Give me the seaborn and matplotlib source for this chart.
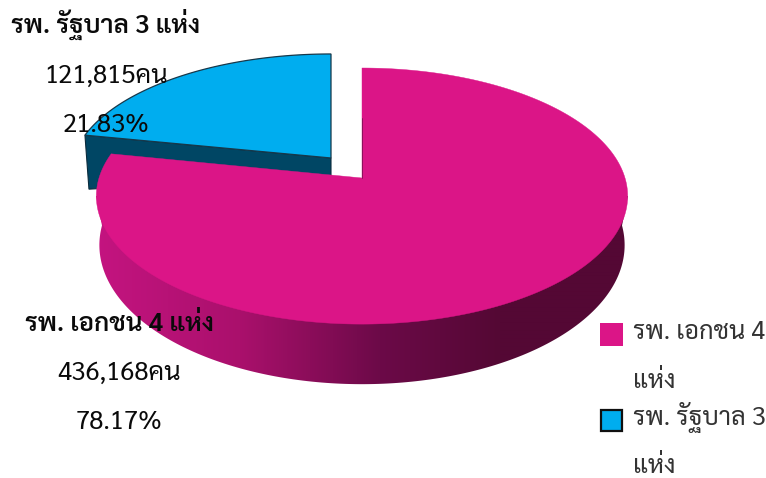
import numpy as np
import matplotlib
matplotlib.use('Agg')
import matplotlib.pyplot as plt
import seaborn as sns
from matplotlib.patches import Rectangle, Polygon

categories = ["รพ. เอกชน 4 แห่ง", "รพ. รัฐบาล 3 แห่ง"]
people = [436168, 121815]
count_labels = ["436,168คน", "121,815คน"]
percent_labels = ["78.17%", "21.83%"]
legend_lines = [["รพ. เอกชน 4", "แห่ง"], ["รพ. รัฐบาล 3", "แห่ง"]]
colors = ["#DB1587", "#00ADEF"]

sns.set_theme(style="white")
FONT = ["Sarabun", "Noto Sans Thai", "DejaVu Sans"]
plt.rcParams['font.family'] = FONT
palette = sns.color_palette(colors)

fig = plt.figure(figsize=(7.66, 4.78), dpi=100, facecolor='white')
ax = fig.add_axes([0, 0, 1, 1])
ax.axis('off')

C = 0.141  # perspective
def rim(theta, cx, cy, r, k):
    d = 1 + C * np.cos(theta)
    return cx + r * np.sin(theta) / d, cy - k * np.cos(theta) / d

share = np.array(people) / sum(people)
end = 2 * np.pi * share[0]

# ---- exploded slice (blue) ----
BX, BY, BR, BK = 331, 158, 258, 118.7
t = np.linspace(end, 2 * np.pi, 120)
bx, by = rim(t, BX, BY, BR, BK)
corner = (bx[0], by[0])
ax.add_patch(Polygon([corner, (BX, BY), (BX, BY + 18), (corner[0] + 4, corner[1] + 54)],
                     closed=True, fc="#004664", ec="#0b2b3c", lw=0.8, zorder=1))
ax.add_patch(Polygon(np.r_[[[BX, BY]], np.c_[bx, by]], closed=True,
                     fc=palette[1], ec="#17384a", lw=0.9, zorder=2))

# ---- main slice side with horizontal shading ----
MX, MY, MR, MK = 362, 178, 263, 125.5
LY0, LR, LK = 225.5, 260, 136.3
tl = np.linspace(1.5 * np.pi, 0.5 * np.pi, 200)
lx, ly = rim(tl, MX, LY0, LR, LK)
side_path = np.r_[[[96, 196]], np.c_[lx, ly], [[628, 196]]]
clip = Polygon(side_path, closed=True, fc='none', ec='none', transform=ax.transData)
ax.add_patch(clip)
stop_x = [96, 240, 380, 500, 628]
stop_rgb = np.array([[196, 20, 128], [170, 16, 108], [108, 10, 72], [84, 8, 52], [84, 8, 52]]) / 255
xs = np.linspace(96, 628, 532)
grad = np.stack([np.interp(xs, stop_x, stop_rgb[:, i]) for i in range(3)], axis=-1)[None, :, :]
im = ax.imshow(grad, extent=[96, 628, 400, 150], aspect='auto', zorder=3, interpolation='bilinear')
im.set_clip_path(clip)

# ---- main slice top ----
t = np.linspace(0, end, 300)
mx, my = rim(t, MX, MY, MR, MK)
ax.add_patch(Polygon(np.r_[[[MX, MY]], np.c_[mx, my]], closed=True,
                     fc=palette[0], ec=palette[0], lw=0.3, zorder=4))
ax.plot([MX, MX], [MY - 60, MY], color="#6a1048", lw=0.5, zorder=4)

ax.set_xlim(0, 766)
ax.set_ylim(478, 0)

# ---- data labels ----
label_x = [119, 106]
label_y = [[331, 380, 429], [33, 83, 132]]
for i in range(2):
    ax.text(label_x[i], label_y[i][0], categories[i], ha='center', va='baseline',
            fontsize=18.7, fontweight='semibold', color='#0a0a0a', zorder=6)
    ax.text(label_x[i], label_y[i][1], count_labels[i], ha='center', va='baseline',
            fontsize=18.6, fontweight='normal', color='#0a0a0a', zorder=6)
    ax.text(label_x[i], label_y[i][2], percent_labels[i], ha='center', va='baseline',
            fontsize=18.6, fontweight='normal', color='#0a0a0a', zorder=6)

# ---- legend ----
ax.add_patch(Rectangle((600, 323), 23, 23, fc=palette[0], ec='none', zorder=6))
ax.add_patch(Rectangle((601, 410), 21, 21, fc=palette[1], ec='#101010', lw=1.6, zorder=6))
leg_base = [[339, 388], [425, 473]]
for i in range(2):
    for j in range(2):
        ax.text(633, leg_base[i][j], legend_lines[i][j], ha='left', va='baseline',
                fontsize=18.3, color='#333333', zorder=6)

fig.savefig('out.png', dpi=100)
